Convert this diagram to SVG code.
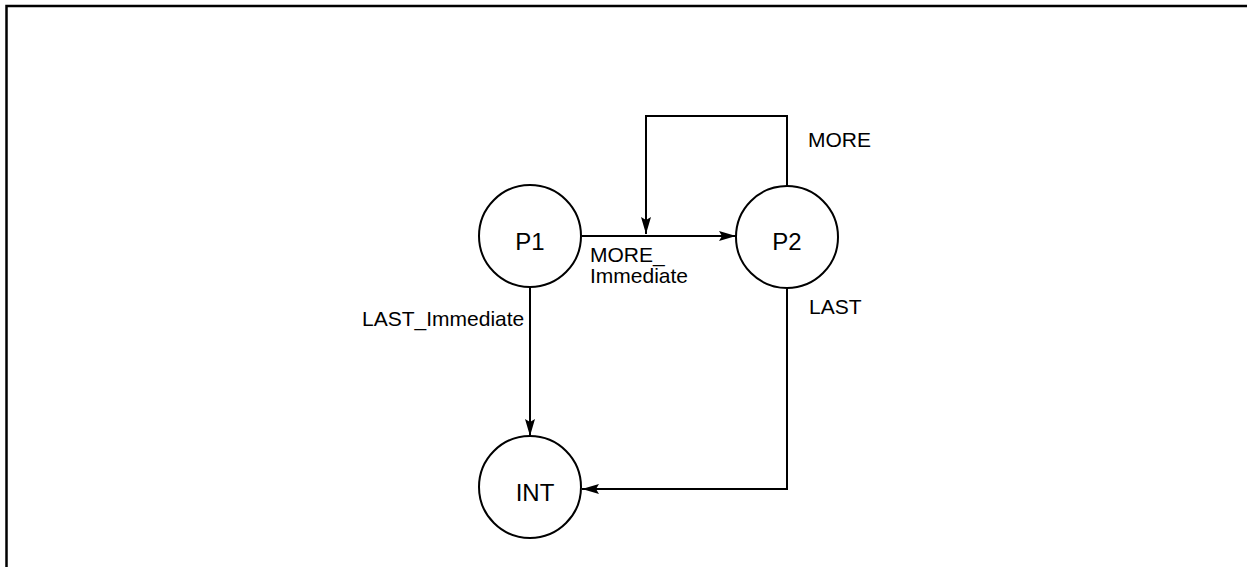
<svg xmlns="http://www.w3.org/2000/svg" width="1247" height="567" viewBox="0 0 1247 567">
<style>
.node{fill:#fff;stroke:#000;stroke-width:2}
.nl{font-family:"Liberation Sans",Arial,sans-serif;font-size:24px;text-anchor:middle;fill:#000}
.el{font-family:"Liberation Sans",Arial,sans-serif;font-size:21px;fill:#000}
.c{fill:none;stroke:#000;stroke-width:2}
</style>
<defs>
<marker id="ah" markerUnits="userSpaceOnUse" markerWidth="18" markerHeight="12" refX="17" refY="5" orient="auto">
<path d="M0,0 L17,5 L0,10 L3,5 z" fill="#000"/>
</marker>
</defs>
<rect width="1247" height="567" fill="#fff"/>
<path d="M6.5,567 V6 H1247" fill="none" stroke="#000" stroke-width="2.5"/>
<g id="connectors">
<path class="c" d="M582,236 H736" marker-end="url(#ah)"/>
<path class="c" d="M787,186 V116 H646 V234" marker-end="url(#ah)"/>
<path class="c" d="M530,288 V436" marker-end="url(#ah)"/>
<path class="c" d="M787,289 V489 H582" marker-end="url(#ah)"/>
<text class="el" x="808" y="147">MORE</text>
<text class="el" x="590" y="262">MORE_</text>
<text class="el" x="590" y="283">Immediate</text>
<text class="el" x="809" y="314">LAST</text>
<text class="el" x="362" y="326">LAST_Immediate</text>
</g>
<g id="P1">
<circle class="node" cx="530" cy="236" r="51"/>
<text class="nl" x="530" y="250">P1</text>
</g>
<g id="P2">
<circle class="node" cx="787" cy="237" r="51"/>
<text class="nl" x="787" y="250">P2</text>
</g>
<g id="INT">
<circle class="node" cx="530" cy="487" r="51"/>
<text class="nl" x="535" y="501">INT</text>
</g>
</svg>
